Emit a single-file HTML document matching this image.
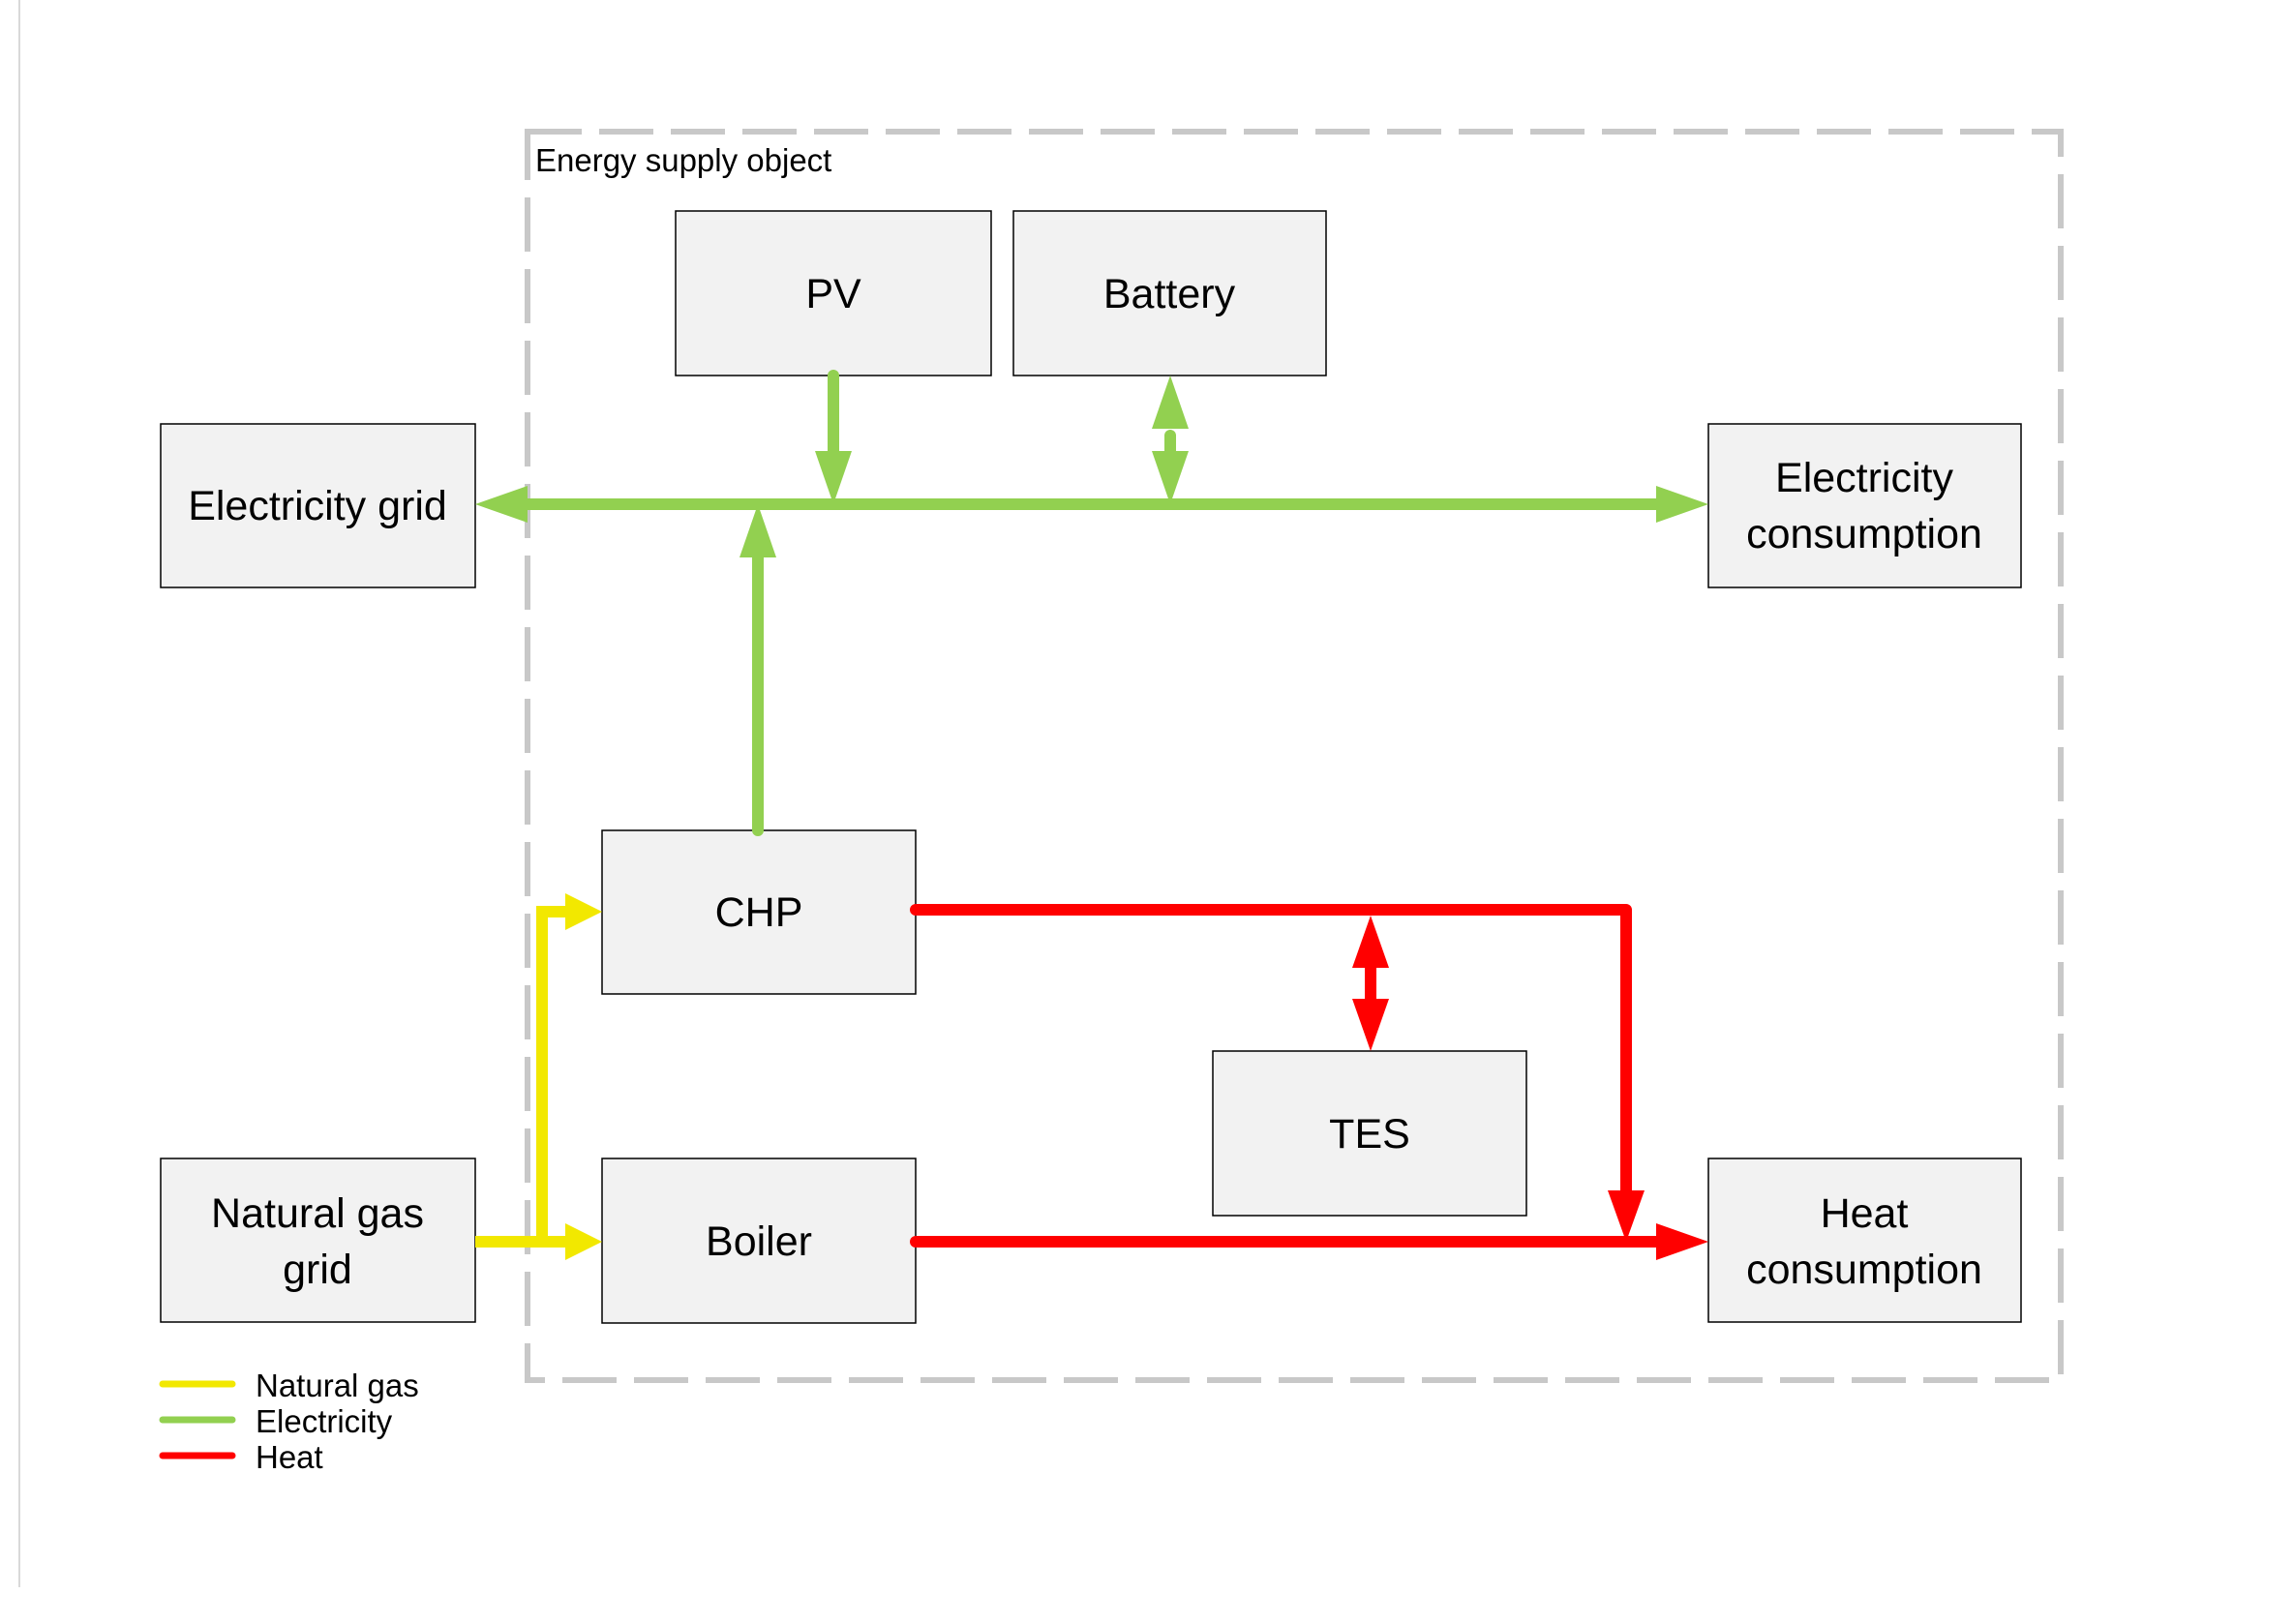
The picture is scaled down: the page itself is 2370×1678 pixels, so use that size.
<!DOCTYPE html>
<html><head><meta charset="utf-8"><style>
html,body{margin:0;padding:0;background:#fff;}
svg{display:block;}
text{font-family:"Liberation Sans",sans-serif;fill:#000;}
</style></head><body>
<svg width="2370" height="1678" viewBox="0 0 2370 1678" xmlns="http://www.w3.org/2000/svg">
<line x1="20" y1="0" x2="20" y2="1640" stroke="#d9d9d9" stroke-width="2"/>
<rect x="545" y="136" width="1584" height="1290" fill="none" stroke="#c8c8c8" stroke-width="6" stroke-dasharray="56 18"/>
<text x="553" y="177" font-size="33">Energy supply object</text>

<g fill="#f2f2f2" stroke="#000" stroke-width="1.5">
<rect x="698" y="218" width="326" height="170"/>
<rect x="1047" y="218" width="323" height="170"/>
<rect x="166" y="438" width="325" height="169"/>
<rect x="1765" y="438" width="323" height="169"/>
<rect x="622" y="858" width="324" height="169"/>
<rect x="1253" y="1086" width="324" height="170"/>
<rect x="166" y="1197" width="325" height="169"/>
<rect x="622" y="1197" width="324" height="170"/>
<rect x="1765" y="1197" width="323" height="169"/>
</g>
<g font-size="43" text-anchor="middle">
<text x="861" y="318">PV</text>
<text x="1208" y="318">Battery</text>
<text x="328" y="537">Electricity grid</text>
<text x="1926" y="508">Electricity</text>
<text x="1926" y="566">consumption</text>
<text x="784" y="957">CHP</text>
<text x="1415" y="1186">TES</text>
<text x="328" y="1268">Natural gas</text>
<text x="328" y="1326">grid</text>
<text x="784" y="1297">Boiler</text>
<text x="1926" y="1268">Heat</text>
<text x="1926" y="1326">consumption</text>
</g>

<!-- green -->
<g stroke="#92d050" stroke-width="12" stroke-linecap="round" fill="none">
<line x1="540" y1="521" x2="1715" y2="521"/>
<line x1="861" y1="388" x2="861" y2="470"/>
<line x1="1209" y1="450" x2="1209" y2="470"/>
<line x1="783" y1="858" x2="783" y2="575"/>
</g>
<g fill="#92d050">
<polygon points="491,521 545,502 545,540"/>
<polygon points="1765,521 1711,502 1711,540"/>
<polygon points="861,521 842,466 880,466"/>
<polygon points="1209,521 1190,466 1228,466"/>
<polygon points="1209,388 1190,443 1228,443"/>
<polygon points="783,521 764,576 802,576"/>
</g>

<!-- red -->
<g stroke="#ff0000" stroke-width="12" stroke-linecap="round" stroke-linejoin="round" fill="none">
<polyline points="946,940 1680,940 1680,1234"/>
<line x1="946" y1="1283" x2="1715" y2="1283"/>
<line x1="1416" y1="990" x2="1416" y2="1040"/>
</g>
<g fill="#ff0000">
<polygon points="1680,1283 1661,1230 1699,1230"/>
<polygon points="1765,1283 1711,1264 1711,1302"/>
<polygon points="1416,946 1397,1000 1435,1000"/>
<polygon points="1416,1086 1397,1032 1435,1032"/>
</g>

<!-- yellow -->
<g stroke="#f2e800" stroke-width="12" fill="none" stroke-linejoin="miter">
<line x1="491" y1="1283" x2="590" y2="1283"/>
<polyline points="560,1283 560,942 590,942"/>
</g>
<g fill="#f2e800">
<polygon points="622,1283 584,1264 584,1302"/>
<polygon points="622,942 584,923 584,961"/>
</g>

<!-- legend -->
<g stroke-width="7" stroke-linecap="round">
<line x1="168" y1="1430" x2="240" y2="1430" stroke="#f2e800"/>
<line x1="168" y1="1467" x2="240" y2="1467" stroke="#92d050"/>
<line x1="168" y1="1504" x2="240" y2="1504" stroke="#ff0000"/>
</g>
<g font-size="33">
<text x="264" y="1443">Natural gas</text>
<text x="264" y="1480">Electricity</text>
<text x="264" y="1517">Heat</text>
</g>
</svg>
</body></html>
